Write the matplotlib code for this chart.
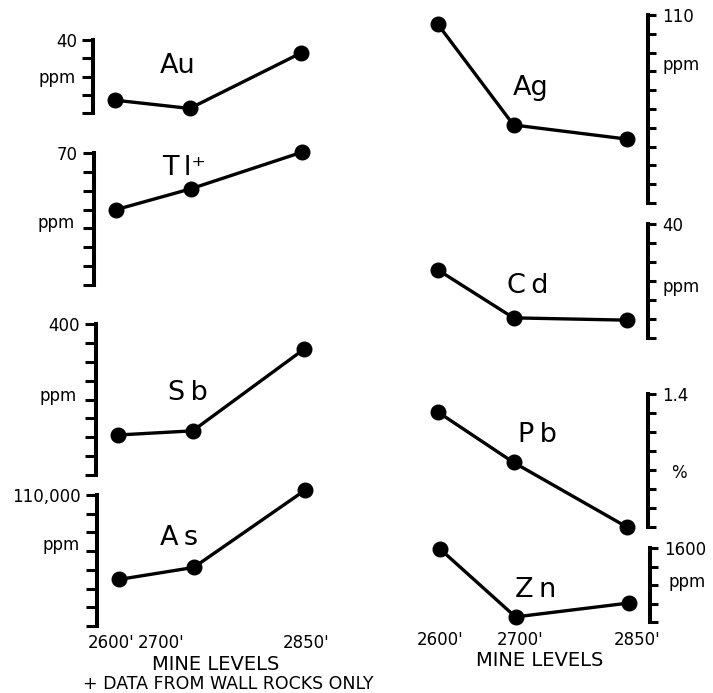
import matplotlib
matplotlib.use("Agg")
import matplotlib.pyplot as plt
import numpy as np

plt.rcParams["font.family"] = ["DejaVu Sans"]

# Mine levels (feet) and their printed labels
levels = [2600, 2700, 2850]
level_labels = ["2600'", "2700'", "2850'"]

# Element concentrations at each mine level
au = [7.0, 2.5, 33.0]          # ppm
tl = [40.0, 51.0, 70.5]        # ppm (wall rocks only)
sb = [106.0, 117.0, 334.0]     # ppm
as_ = [64900, 71300, 112700]   # ppm
ag = [105.0, 51.5, 44.0]       # ppm
cd = [27.9, 15.3, 14.7]        # ppm
pb = [1.21, 0.68, 0.0]         # %
zn = [1580, 110, 410]          # ppm

# Axis scales: (min, max, tick step, label of top tick, unit)
au_scale = (0, 40, 10, "40", "ppm")
tl_scale = (0, 70, 10, "70", "ppm")
sb_scale = (0, 400, 50, "400", "ppm")
as_scale = (40000, 110000, 10000, "110,000", "ppm")
ag_scale = (10, 110, 10, "110", "ppm")
cd_scale = (10, 40, 5, "40", "ppm")
pb_scale = (0, 1.4, 0.2, "1.4", "%")
zn_scale = (0, 1600, 400, "1600", "ppm")

W, H, DPI = 713, 693, 100
fig = plt.figure(figsize=(W / DPI, H / DPI), dpi=DPI)
fig.patch.set_facecolor("white")


def rect(x0, y0, x1, y1):
    return [x0 / W, 1 - y1 / H, (x1 - x0) / W, (y1 - y0) / H]


def panel(values, scale, name, side, spine_x, y_top, y_bot, unit_xy, name_xy):
    lo, hi, step, top_label, unit = scale
    if side == "left":
        x0, x1 = spine_x, spine_x + 227
        xlim = (2570, 2875)
    else:
        x0, x1 = spine_x - 238, spine_x
        xlim = (2563, 2878)
    ax = fig.add_axes(rect(x0, y_top, x1, y_bot))
    ax.set_facecolor("none")
    ax.set_xlim(*xlim)
    ax.set_ylim(lo, hi)
    ax.plot(levels, values, "-o", color="black", lw=2.4, ms=10.5,
            clip_on=False, zorder=3)

    for s in ax.spines.values():
        s.set_visible(False)
    sp = ax.spines[side]
    sp.set_visible(True)
    sp.set_linewidth(2.9)
    sp.set_capstyle("projecting")

    ax.set_xticks([])
    ticks = np.arange(lo, hi + step / 2, step)
    ax.set_yticks(ticks)
    ax.set_yticklabels([""] * (len(ticks) - 1) + [top_label])
    if side == "right":
        ax.yaxis.tick_right()
        ax.yaxis.set_label_position("right")
        ax.tick_params(axis="y", direction="out", length=6, width=2.2,
                       pad=4, labelsize=12)
    else:
        ax.tick_params(axis="y", direction="out", length=8, width=2.2,
                       pad=3.5, labelsize=12)

    ux, uy = unit_xy
    ax.set_ylabel(unit, rotation=0, fontsize=12,
                  ha="right" if side == "left" else "left", va="center")
    ax.yaxis.set_label_coords((ux - x0) / (x1 - x0), (y_bot - uy) / (y_bot - y_top))

    nx, ny = name_xy
    fig.text(nx / W, 1 - ny / H, name, fontsize=19.5, ha="left", va="baseline")
    return ax


# Left column
panel(au, au_scale, "Au", "left", 93, 40, 113, (76, 78), (160, 73))
panel(tl, tl_scale, "T\u2009l\u207a", "left", 94, 153, 285, (75, 223), (162, 175))
panel(sb, sb_scale, "S\u2009b", "left", 96, 324, 475, (77, 396), (168, 400))
panel(as_, as_scale, "A\u2009s", "left", 97, 495, 626, (80, 545), (160, 545))

# Right column
panel(ag, ag_scale, "Ag", "right", 648, 15, 203, (662, 65), (513, 95))
panel(cd, cd_scale, "C\u2009d", "right", 648, 224, 338, (663, 287), (507, 293))
panel(pb, pb_scale, "P\u2009b", "right", 648, 394, 527, (671, 473), (518, 442))
panel(zn, zn_scale, "Z\u2009n", "right", 650, 548, 622, (668, 582), (515, 597))

# Mine level labels beneath each column
left_label_x = [111, 161, 306]
right_label_x = [440, 520, 637]
for lbl, xl, xr in zip(level_labels, left_label_x, right_label_x):
    fig.text(xl / W, 1 - 643 / H, lbl, fontsize=12, ha="center", va="center")
    fig.text(xr / W, 1 - 640 / H, lbl, fontsize=12, ha="center", va="center")

fig.text(216 / W, 1 - 665 / H, "MINE LEVELS", fontsize=14, ha="center", va="center")
fig.text(540 / W, 1 - 661 / H, "MINE LEVELS", fontsize=14, ha="center", va="center")
fig.text(228 / W, 1 - 684 / H, "+ DATA FROM WALL ROCKS ONLY", fontsize=12.5,
         ha="center", va="center")

fig.savefig("out.png", dpi=DPI)
